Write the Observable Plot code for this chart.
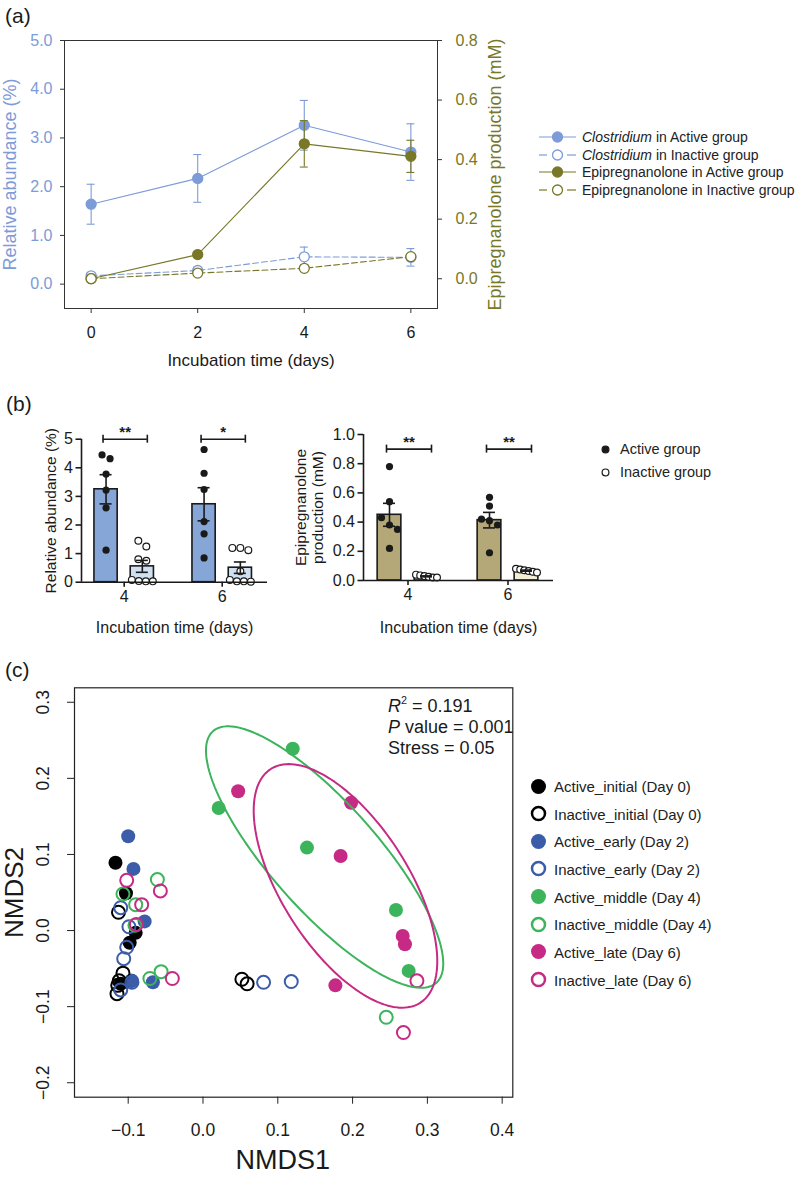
<!DOCTYPE html>
<html><head><meta charset="utf-8">
<script src="https://cdn.jsdelivr.net/npm/d3@7"></script>
<script src="https://cdn.jsdelivr.net/npm/@observablehq/plot@0.6"></script>
<style>
html,body{margin:0;padding:0;background:#fff;}
#root{position:relative;width:800px;height:1188px;overflow:hidden;font-family:"Liberation Sans",Arial,Helvetica,sans-serif;color:#1a1a1a;}
.lbl{position:absolute;white-space:nowrap;line-height:1;transform:translateY(-50%);}
</style></head><body><div id="root"></div>
<script>
// ---------------- Panel (a) data ----------------
const daysA = [0, 2, 4, 6];
const clostActive = [1.64, 2.17, 3.26, 2.71];
const clostActiveSE = [0.41, 0.49, 0.51, 0.58];
const clostInactive = [0.17, 0.28, 0.56, 0.55];
const clostInactiveSE = [0.06, 0.07, 0.20, 0.18];
const epiActive = [0.0, 0.081, 0.453, 0.411];
const epiActiveSE = [0.004, 0.006, 0.078, 0.054];
const epiInactive = [0.0, 0.019, 0.035, 0.074];
const epiInactiveSE = [0.002, 0.003, 0.004, 0.005];
const leftTicksA = [0, 1, 2, 3, 4, 5];
const rightTicksA = [0, 0.2, 0.4, 0.6, 0.8];
const legendLabelsA = ["Clostridium in Active group", "Clostridium in Inactive group", "Epipregnanolone in Active group", "Epipregnanolone in Inactive group"];

// ---------------- Panel (b) data ----------------
const daysB = [4, 6];
const abundActive = [[4.32, 4.45, 3.78, 3.22, 2.60, 1.12], [4.64, 3.81, 3.24, 2.12, 1.69, 0.85]];
const abundInactive = [[1.45, 1.25, 0.80, 0.75, 0.08, 0.04, 0.03, 0.03], [1.20, 1.20, 1.12, 0.38, 0.08, 0.03, 0.03, 0.02]];
const epiProdActive = [[0.78, 0.54, 0.43, 0.38, 0.35, 0.22], [0.57, 0.51, 0.42, 0.41, 0.38, 0.19]];
const epiProdInactive = [[0.04, 0.035, 0.03, 0.025, 0.02, 0.02], [0.08, 0.075, 0.07, 0.065, 0.06, 0.055]];
const starsAbund = ["**", "*"];
const starsEpi = ["**", "**"];
const abundTicks = [0, 1, 2, 3, 4, 5];
const epiTicks = [0, 0.2, 0.4, 0.6, 0.8, 1.0];
const legendLabelsB = ["Active group", "Inactive group"];

// ---------------- Panel (c) data ----------------
const groupsC = ["Active_initial (Day 0)", "Inactive_initial (Day 0)", "Active_early (Day 2)", "Inactive_early (Day 2)", "Active_middle (Day 4)", "Inactive_middle (Day 4)", "Active_late (Day 6)", "Inactive_late (Day 6)"];
const activeInitial = [[-0.117, 0.089], [-0.103, 0.049], [-0.090, -0.003], [-0.098, -0.016], [-0.096, -0.066], [-0.110, -0.070]];
const inactiveInitial = [[-0.113, 0.024], [-0.107, -0.056], [-0.112, -0.066], [-0.114, -0.072], [-0.115, -0.083], [0.052, -0.064], [0.059, -0.070]];
const activeEarly = [[-0.100, 0.124], [-0.093, 0.081], [-0.078, 0.012], [-0.067, -0.068], [-0.095, -0.066]];
const inactiveEarly = [[-0.110, 0.030], [-0.099, 0.005], [-0.102, -0.022], [-0.106, -0.037], [-0.095, -0.068], [-0.110, -0.078], [0.081, -0.068], [0.118, -0.067]];
const activeMiddle = [[0.120, 0.239], [0.021, 0.161], [0.139, 0.109], [0.258, 0.027], [0.275, -0.053]];
const inactiveMiddle = [[-0.061, 0.067], [-0.107, 0.048], [-0.090, 0.034], [-0.091, 0.007], [-0.071, -0.063], [-0.056, -0.054], [0.245, -0.114]];
const activeLate = [[0.047, 0.183], [0.198, 0.168], [0.184, 0.098], [0.267, -0.007], [0.270, -0.018], [0.177, -0.072]];
const inactiveLate = [[-0.102, 0.066], [-0.057, 0.052], [-0.082, 0.034], [-0.089, 0.008], [-0.041, -0.063], [0.286, -0.066], [0.268, -0.134]];
const xTicksC = [-0.1, 0.0, 0.1, 0.2, 0.3, 0.4];
const yTicksC = [-0.2, -0.1, 0.0, 0.1, 0.2, 0.3];
const statsC = ["<i>R</i><sup style='font-size:0.6em;vertical-align:0.65em'>2</sup> = 0.191", "<i>P</i> value = 0.001", "Stress = 0.05"];

// ---------------- helpers ----------------
const FONT = '"Liberation Sans", Arial, Helvetica, sans-serif';
const BLUE = "#7d9bd7", OLIVE = "#787828", INK = "#1a1a1a";
const root = document.getElementById("root");
function addSvg(svg, left, top) {
  svg.style.position = "absolute"; svg.style.left = left + "px"; svg.style.top = top + "px";
  root.appendChild(svg);
}
function addText(html, left, cy, size, opts = {}) {
  const d = document.createElement("div");
  d.className = "lbl"; d.innerHTML = html;
  d.style.left = left + "px"; d.style.top = cy + "px"; d.style.fontSize = size + "px";
  Object.assign(d.style, opts);
  root.appendChild(d); return d;
}
function glyph({left, cy, width, color, dashed, filled, r, sw, line}) {
  const h = 2 * r + 6;
  const svg = d3.create("svg").attr("width", width).attr("height", h)
    .style("position", "absolute").style("left", left + "px").style("top", (cy - h / 2) + "px").style("overflow", "visible");
  if (line) {
    const segs = dashed ? [[0, 8], [width - 9, width]] : [[0, width]];
    for (const [a, b] of segs) svg.append("line").attr("x1", a).attr("x2", b).attr("y1", h / 2).attr("y2", h / 2)
      .attr("stroke", color).attr("stroke-width", 1.2);
  }
  svg.append("circle").attr("cx", width / 2).attr("cy", h / 2).attr("r", r)
    .attr("fill", filled ? color : "white").attr("stroke", color).attr("stroke-width", sw);
  root.appendChild(svg.node());
}
// centred title text anchored to an edge of the frame
function title(str, frameAnchor, o) {
  return Plot.text([str], {text: d => d, frameAnchor, textAnchor: "middle", lineAnchor: "middle", ...o});
}

// ---------------- Panel (a) ----------------
const r2l = d3.scaleLinear([-0.1, 0.8], [-0.5, 5.0]);
function rowsA(vals, se, map = d => d) {
  return daysA.map((d, i) => ({day: d, y: map(vals[i]), lo: map(vals[i] - se[i]), hi: map(vals[i] + se[i])}));
}
const seriesA = [
  {rows: rowsA(clostActive, clostActiveSE), color: BLUE, dash: undefined, filled: true},
  {rows: rowsA(clostInactive, clostInactiveSE), color: BLUE, dash: "6,3", filled: false},
  {rows: rowsA(epiActive, epiActiveSE, r2l), color: OLIVE, dash: undefined, filled: true},
  {rows: rowsA(epiInactive, epiInactiveSE, r2l), color: OLIVE, dash: "6,3", filled: false}
];
const marksA = [];
for (const s of seriesA) {
  marksA.push(Plot.ruleX(s.rows, {x: "day", y1: "lo", y2: "hi", stroke: s.color, strokeWidth: 1.1}));
  marksA.push(Plot.ruleY(s.rows, {x1: "day", x2: "day", y: "lo", insetLeft: -4, insetRight: -4, stroke: s.color, strokeWidth: 1.1}));
  marksA.push(Plot.ruleY(s.rows, {x1: "day", x2: "day", y: "hi", insetLeft: -4, insetRight: -4, stroke: s.color, strokeWidth: 1.1}));
  marksA.push(Plot.line(s.rows, {x: "day", y: "y", stroke: s.color, strokeWidth: 1.1, strokeDasharray: s.dash}));
  marksA.push(Plot.dot(s.rows, {x: "day", y: "y", r: 5, fill: s.filled ? s.color : "white", stroke: s.color, strokeWidth: 1.3}));
}
const plotA = Plot.plot({
  width: 520, height: 372, marginLeft: 64, marginRight: 83, marginTop: 40, marginBottom: 64,
  style: {fontFamily: FONT, background: "transparent", overflow: "visible"},
  x: {domain: [-0.5, 6.5]},
  y: {domain: [-0.5, 5.0]},
  marks: [
    Plot.frame({stroke: "#333", strokeWidth: 1}),
    Plot.axisX({ticks: daysA, tickFormat: d => String(d), tickSize: 5, tickPadding: 13, fontSize: 16, stroke: "#333", fill: INK, label: null}),
    Plot.axisY({ticks: leftTicksA, tickFormat: d => d.toFixed(1), tickSize: 4, tickPadding: 8, fontSize: 16, stroke: "#333", fill: BLUE, label: null}),
    Plot.axisY({anchor: "right", ticks: rightTicksA.map(r2l), tickFormat: d => r2l.invert(d).toFixed(1), tickSize: 4, tickPadding: 14, fontSize: 16, stroke: "#333", fill: OLIVE, label: null}),
    ...marksA,
    title("Incubation time (days)", "bottom", {dy: 52, fontSize: 17, fill: INK}),
    title("Relative abundance (%)", "left", {rotate: -90, dx: -54, fontSize: 18, fill: BLUE}),
    title("Epipregnanolone production (mM)", "right", {rotate: -90, dx: 58, fontSize: 18, fill: OLIVE})
  ]
});
addSvg(plotA, 0, 0);
addText("(a)", 5, 15, 21);
const legendRowsA = [137, 154.5, 172, 189.5];
legendLabelsA.forEach((lab, i) => {
  const s = seriesA[i];
  glyph({left: 539, cy: legendRowsA[i], width: 37, color: s.color, dashed: !!s.dash, filled: s.filled, r: 5, sw: 1.3, line: true});
  addText(lab.replace("Clostridium", "<i>Clostridium</i>"), 582, legendRowsA[i], 14, {color: "#222"});
});

// ---------------- Panel (b) ----------------
function swarm(vals, thr) {
  const idx = d3.range(vals.length).sort((a, b) => vals[b] - vals[a]);
  const clusters = []; let cur = [];
  for (const i of idx) {
    if (cur.length && vals[cur[cur.length - 1]] - vals[i] >= thr) { clusters.push(cur); cur = []; }
    cur.push(i);
  }
  if (cur.length) clusters.push(cur);
  const dx = new Array(vals.length).fill(0);
  for (const c of clusters) {
    const m = c.length; if (m < 2) continue;
    const sp = Math.min(8, 21 / (m - 1));
    c.forEach((i, j) => dx[i] = (j - (m - 1) / 2) * sp);
  }
  return dx;
}
function barPanel(o) {
  const off = 0.37, hw = 0.237;
  const pxPerDay = (o.width - o.ml - o.mr) / (o.xDomain[1] - o.xDomain[0]);
  const bars = [], pts = [];
  daysB.forEach((day, i) => {
    [o.active[i], o.inactive[i]].forEach((vals, g) => {
      const c = day + (g === 0 ? -off : off);
      const mean = d3.mean(vals), se = d3.deviation(vals) / Math.sqrt(vals.length);
      bars.push({day, g, c, mean, lo: mean - se, hi: mean + se});
      const dx = swarm(vals, o.thr);
      vals.forEach((v, j) => pts.push({g, x: c + dx[j] / pxPerDay, y: v}));
    });
  });
  const brk = daysB.map((day, i) => ({day, a: day - off, b: day + off, level: o.level, stars: o.stars[i]}));
  const SW = 1.6;
  return Plot.plot({
    width: o.width, height: o.height, marginLeft: o.ml, marginRight: o.mr, marginTop: o.mt, marginBottom: o.mb,
    style: {fontFamily: FONT, background: "transparent", overflow: "visible"},
    x: {domain: o.xDomain}, y: {domain: o.yDomain},
    marks: [
      Plot.rect(bars.filter(d => d.g === 0), {x1: d => d.c - hw, x2: d => d.c + hw, y1: 0, y2: "mean", fill: o.fills[0], stroke: INK, strokeWidth: SW}),
      Plot.rect(bars.filter(d => d.g === 1), {x1: d => d.c - hw, x2: d => d.c + hw, y1: 0, y2: "mean", fill: o.fills[1], stroke: INK, strokeWidth: SW}),
      Plot.dot(pts.filter(d => d.g === 0), {x: "x", y: "y", r: 3.6, fill: INK, stroke: "none"}),
      Plot.dot(pts.filter(d => d.g === 1), {x: "x", y: "y", r: 3.4, fill: "white", stroke: INK, strokeWidth: 1.2}),
      Plot.ruleX(bars, {x: "c", y1: "lo", y2: "hi", stroke: INK, strokeWidth: SW}),
      Plot.ruleY(bars, {x1: "c", x2: "c", y: "lo", insetLeft: -6, insetRight: -6, stroke: INK, strokeWidth: SW}),
      Plot.ruleY(bars, {x1: "c", x2: "c", y: "hi", insetLeft: -6, insetRight: -6, stroke: INK, strokeWidth: SW}),
      Plot.ruleX([o.xDomain[0]], {y1: o.yDomain[0], y2: o.yDomain[1], stroke: INK, strokeWidth: SW}),
      Plot.ruleY([o.yDomain[0]], {stroke: INK, strokeWidth: SW}),
      Plot.axisX({ticks: daysB, tickFormat: d => String(d), tickSize: 5, tickPadding: 3, fontSize: 16, stroke: INK, strokeWidth: SW, fill: INK, label: null}),
      Plot.axisY({ticks: o.yTicks, tickFormat: o.fmt, tickSize: 5.5, tickPadding: 3, fontSize: 16, stroke: INK, strokeWidth: SW, fill: INK, label: null}),
      Plot.ruleY(brk, {x1: "a", x2: "b", y: "level", insetLeft: -3, insetRight: -5, stroke: INK, strokeWidth: SW}),
      Plot.ruleX(brk, {x: "a", y1: "level", y2: "level", insetTop: -4, insetBottom: -4, dx: -3, stroke: INK, strokeWidth: SW}),
      Plot.ruleX(brk, {x: "b", y1: "level", y2: "level", insetTop: -4, insetBottom: -4, dx: 5, stroke: INK, strokeWidth: SW}),
      Plot.text(brk, {x: "day", y: "level", text: "stars", dx: 1, dy: -2, lineAnchor: "bottom", fontSize: 15, fontWeight: "bold", fill: INK}),
      title("Incubation time (days)", "bottom", {dy: o.titleDy, fontSize: 16, fill: INK}),
      title(o.yTitle, "left", {rotate: -90, dx: o.yTitleDx, fontSize: 15.5, lineHeight: 1.1, fill: INK})
    ]
  });
}
const plotB1 = barPanel({
  active: abundActive, inactive: abundInactive, yDomain: [0, 5], yTicks: abundTicks, fmt: d => String(d),
  thr: 0.25, fills: ["#85a6d6", "#cfe0f3"], stars: starsAbund, level: 5,
  width: 280, height: 260, ml: 81, mr: 13, mt: 58.7, mb: 58.3, xDomain: [3.129, 6.924],
  yTitle: "Relative abundance (%)", yTitleDx: -31, titleDy: 45.5
});
addSvg(plotB1, 0, 380);
const plotB2 = barPanel({
  active: epiProdActive, inactive: epiProdInactive, yDomain: [0, 1], yTicks: epiTicks, fmt: d => d.toFixed(1),
  thr: 0.05, fills: ["#b4a878", "#f3eed6"], stars: starsEpi, level: 0.9,
  width: 290, height: 260, ml: 83, mr: 17, mt: 54, mb: 60, xDomain: [3.11, 6.91],
  yTitle: "Epipregnanolone\nproduction (mM)", yTitleDx: -54.5, titleDy: 47
});
addSvg(plotB2, 280, 380);
addText("(b)", 6, 403, 21);
legendLabelsB.forEach((lab, i) => {
  glyph({left: 601.5, cy: 449 + 23 * i, width: 7, color: INK, filled: i === 0, r: 3.4, sw: 1.2, line: false});
  addText(lab, 620, 449 + 23 * i, 14.5, {color: "#222"});
});

// ---------------- Panel (c) ----------------
const colorsC = ["#000000", "#000000", "#3a5ca9", "#3a5ca9", "#3cb45c", "#3cb45c", "#c62a84", "#c62a84"];
const filledC = [true, false, true, false, true, false, true, false];
const pointsC = [activeInitial, inactiveInitial, activeEarly, inactiveEarly, activeMiddle, inactiveMiddle, activeLate, inactiveLate];
function covEllipse(pts, conf = 0.68, n = 160) {
  const mx = d3.mean(pts, p => p[0]), my = d3.mean(pts, p => p[1]);
  let sxx = 0, syy = 0, sxy = 0;
  for (const [x, y] of pts) { sxx += (x - mx) ** 2; syy += (y - my) ** 2; sxy += (x - mx) * (y - my); }
  const m = pts.length - 1; sxx /= m; syy /= m; sxy /= m;
  const k = Math.sqrt(-2 * Math.log(1 - conf));
  const a = Math.sqrt(sxx), b = sxy / a, c = Math.sqrt(syy - b * b);
  return d3.range(n).map(i => {
    const t = 2 * Math.PI * i / n, u = Math.cos(t), v = Math.sin(t);
    return {x: mx + k * a * u, y: my + k * (b * u + c * v)};
  });
}
const dotMarksC = [];
pointsC.forEach((pts, g) => { if (filledC[g]) dotMarksC.push(Plot.dot(pts, {x: d => d[0], y: d => d[1], r: 7, fill: colorsC[g], stroke: "none"})); });
pointsC.forEach((pts, g) => { if (!filledC[g]) dotMarksC.push(Plot.dot(pts, {x: d => d[0], y: d => d[1], r: 6.5, fill: "none", stroke: colorsC[g], strokeWidth: 2})); });
const plotC = Plot.plot({
  width: 520, height: 538, marginLeft: 74, marginRight: 7.7, marginTop: 37.3, marginBottom: 91.3,
  style: {fontFamily: FONT, background: "transparent", overflow: "visible"},
  x: {domain: [-0.1718, 0.4142]}, y: {domain: [-0.219, 0.319]},
  marks: [
    Plot.frame({stroke: "#222", strokeWidth: 1.2}),
    Plot.axisX({ticks: xTicksC, tickFormat: d3.format(".1f"), tickSize: 7, tickPadding: 19.6, fontSize: 17.5, stroke: "#222", fill: INK, label: null}),
    Plot.axisY({ticks: yTicksC, tickFormat: d3.format(".1f"), tickRotate: -90, tickSize: 7, tickPadding: 18.7, fontSize: 17.5, stroke: "#222", fill: INK, label: null}),
    ...dotMarksC,
    Plot.line(covEllipse(activeMiddle), {x: "x", y: "y", curve: "linear-closed", stroke: colorsC[4], strokeWidth: 2}),
    Plot.line(covEllipse(activeLate), {x: "x", y: "y", curve: "linear-closed", stroke: colorsC[6], strokeWidth: 2}),
    title("NMDS1", "bottom", {dx: -11, dy: 63, fontSize: 27, fill: INK}),
    title("NMDS2", "left", {rotate: -90, dx: -59.5, fontSize: 26, fill: INK})
  ]
});
addSvg(plotC, 0, 650);
addText("(c)", 5, 669, 21);
statsC.forEach((s, i) => addText(s, 388, 705 + 21.5 * i, 18));
groupsC.forEach((lab, i) => {
  const cy = 786 + 27.66 * i;
  glyph({left: 530.5, cy, width: 15, color: colorsC[i], filled: filledC[i], r: filledC[i] ? 7.5 : 6.5, sw: filledC[i] ? 0 : 2.5, line: false});
  addText(lab, 554, cy, 15, {color: "#222"});
});
</script></body></html>
